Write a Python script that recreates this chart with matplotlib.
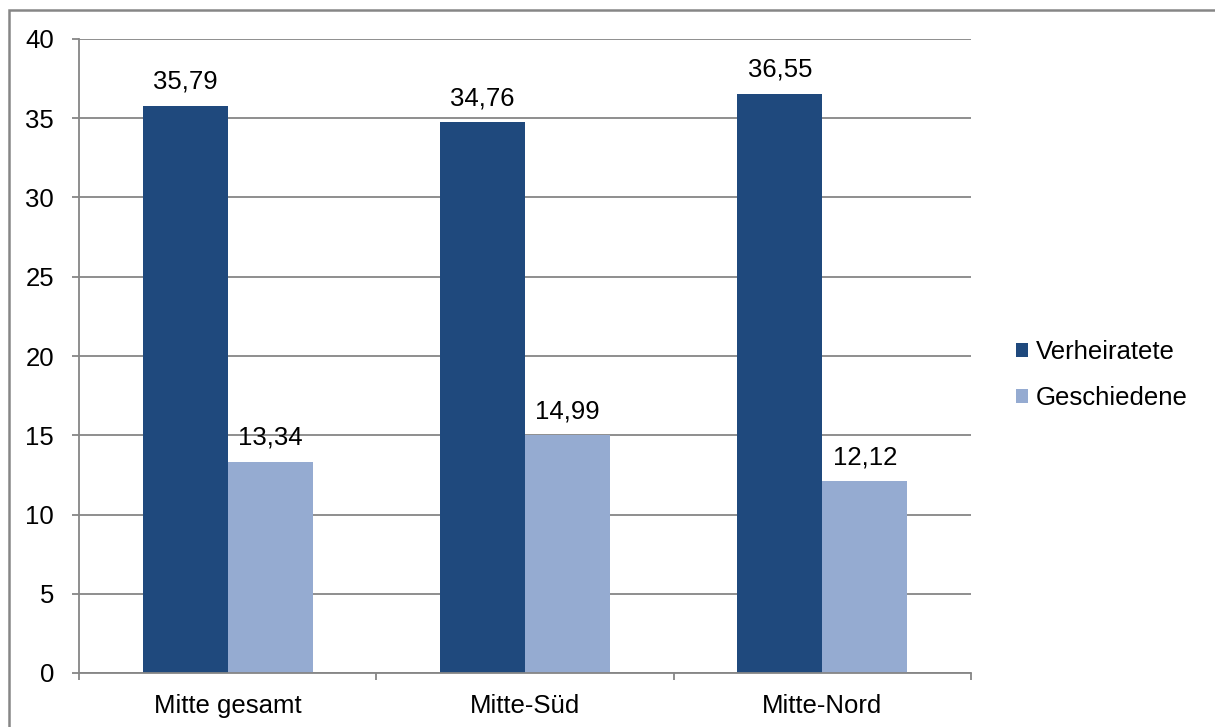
import matplotlib.pyplot as plt
import matplotlib.patches as mpatches
import numpy as np

plt.rcParams['font.family'] = ['Liberation Sans', 'DejaVu Sans']

categories = ['Mitte gesamt', 'Mitte-Süd', 'Mitte-Nord']
verheiratete = [35.79, 34.76, 36.55]
geschiedene = [13.34, 14.99, 12.12]
series_names = ['Verheiratete', 'Geschiedene']

dark = '#1F497D'
light = '#95ABD1'
grid_col = '#868686'
fs = 18.5

fig = plt.figure(figsize=(12.15, 7.27), dpi=100)
ax = fig.add_axes([79/1215, 1 - 673/727, (971-79)/1215, (673-39)/727])

x = np.arange(len(categories))
w = 0.286
b1 = ax.bar(x - w/2, verheiratete, w, color=dark, label=series_names[0])
b2 = ax.bar(x + w/2, geschiedene, w, color=light, label=series_names[1])

fmt = lambda v: f'{v:.2f}'.replace('.', ',')
ax.bar_label(b1, labels=[fmt(v) for v in verheiratete], padding=8.5, fontsize=fs)
ax.bar_label(b2, labels=[fmt(v) for v in geschiedene], padding=8.5, fontsize=fs)

ax.set_xlim(-0.5, 2.5)
ax.set_ylim(0, 40)
ax.set_yticks(range(0, 41, 5))
ax.yaxis.grid(True, color=grid_col, linewidth=1.3)
ax.set_axisbelow(True)

# category ticks sit between the groups
ax.set_xticks([-0.5, 0.5, 1.5, 2.5])
ax.set_xticklabels([])
ax.set_xticks(x, minor=True)
ax.set_xticklabels(categories, minor=True, fontsize=fs)
ax.tick_params(axis='x', which='minor', length=0, pad=15)
ax.tick_params(axis='x', which='major', length=5, color=grid_col, width=1.3, direction='out')
ax.tick_params(axis='y', length=5, color=grid_col, width=1.3, labelsize=fs, pad=13)

for s in ['top', 'right']:
    ax.spines[s].set_visible(False)
for s in ['left', 'bottom']:
    ax.spines[s].set_color(grid_col)
    ax.spines[s].set_linewidth(1.3)

leg = fig.legend(handles=[b1, b2], loc='center left', bbox_to_anchor=(993/1215, 1 - 375/727),
                 frameon=False, fontsize=fs, handlelength=0.47, handleheight=0.47,
                 handletextpad=0.31, labelspacing=0.85)

# outer chart frame
fig.patches.append(mpatches.Rectangle((9/1215, -0.05), 1.1, 1 - 10/727 + 0.05,
                                      transform=fig.transFigure, fill=False,
                                      edgecolor=grid_col, linewidth=1.8))

fig.savefig('out.png', dpi=100)
